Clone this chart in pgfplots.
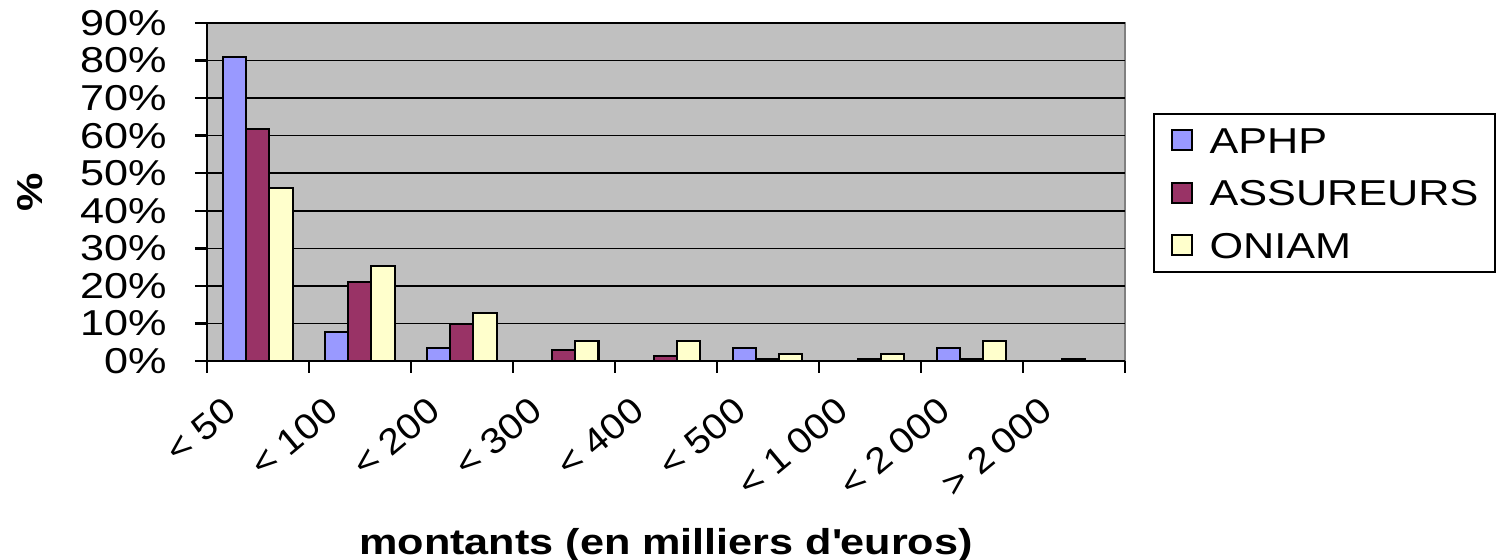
\documentclass[border=0pt]{standalone}
\usepackage{fontspec}
\setmainfont{Liberation Sans}[FakeStretch=1.2]
\newfontfamily\tickfont{Liberation Sans}[FakeStretch=1.1]
\usepackage{pgfplots}
\pgfplotsset{compat=1.18}
\definecolor{aphp}{HTML}{9999FF}
\definecolor{assur}{HTML}{993366}
\definecolor{oniam}{HTML}{FFFFCC}
\definecolor{bggray}{HTML}{C0C0C0}
\definecolor{bordergray}{HTML}{808080}
\begin{document}
\begin{tikzpicture}[font=\fontsize{18}{21.6}\selectfont]
\path[use as bounding box] (0,0) rectangle (750pt,280pt);
\begin{axis}[
  at={(103.5pt,99.5pt)}, anchor=south west,
  scale only axis, width=459pt, height=169pt,
  ybar=0pt, bar width=0.2255,
  xmin=-0.5, xmax=8.5, ymin=0, ymax=90,
  axis background/.style={fill=bggray, draw=bordergray, line width=0.8pt},
  axis x line*=bottom, axis y line*=left,
  axis line style={line width=1.2pt, black, -},
  xtick={0,...,8},
  xticklabels={{<\hspace{0.3em}50},{<\hspace{0.3em}100},{<\hspace{0.3em}200},{<\hspace{0.3em}300},{<\hspace{0.3em}400},{<\hspace{0.3em}500},{<\hspace{0.3em}1\hspace{0.22em}000},{<\hspace{0.3em}2\hspace{0.22em}000},{>\hspace{0.3em}2\hspace{0.22em}000}},
  minor xtick={-0.5,0.5,...,8.5},
  major x tick style={draw=none},
  minor x tick style={black, line width=1.2pt},
  ytick={0,10,...,90},
  ytick style={black, line width=1.2pt},
  tick align=outside,
  major tick length=6pt, minor tick length=6pt,
  ymajorgrids,
  grid style={black, line width=0.8pt},
  yticklabel={\pgfmathprintnumber{\tick}\%},
  /pgf/number format/assume math mode=true,
  yticklabel style={anchor=east, inner sep=0pt, xshift=-14pt},
  xticklabel style={inner sep=0pt, xshift=-18pt, yshift=-11pt, rotate=39.8, anchor=north east, font=\fontsize{18}{21.6}\tickfont},
  every axis x label/.style={at={(axis description cs:0.5,-0.545)}, anchor=center, font=\fontsize{18}{21.6}\selectfont\bfseries},
  every axis y label/.style={at={(axis description cs:-0.193,0.5)}, anchor=center, rotate=90, font=\fontsize{18}{21.6}\selectfont\bfseries},
  xlabel={montants (en milliers d\textquotesingle euros)},
  ylabel={\%},
  legend style={at={(1,1)}, anchor=north west, xshift=13.8pt, yshift=-45pt,
    draw=black, line width=1pt, fill=white,
    inner xsep=8.5pt, inner ysep=6.75pt, row sep=13.25pt, column sep=8.5pt,
    nodes={inner sep=0pt, text height=13pt, text depth=0pt},
    font=\fontsize{18}{21.6}\selectfont},
  legend cell align=left,
  legend image code/.code={\draw[#1, line width=1pt] (0pt,-5pt) rectangle (10pt,5pt);},
]
\addplot[fill=aphp, draw=black, line width=1pt] coordinates {(0,81.0) (1,7.6) (2,3.5) (5,3.5) (7,3.5)};
\addplot[fill=assur, draw=black, line width=1pt] coordinates {(0,61.8) (1,21.0) (2,9.8) (3,2.9) (4,1.4) (5,0.5) (6,0.5) (7,0.5) (8,0.5)};
\addplot[fill=oniam, draw=black, line width=1pt] coordinates {(0,46.0) (1,25.2) (2,12.8) (3,5.3) (4,5.3) (5,1.8) (6,1.8) (7,5.3)};
\legend{APHP,ASSUREURS,ONIAM}
\end{axis}
\end{tikzpicture}
\end{document}
